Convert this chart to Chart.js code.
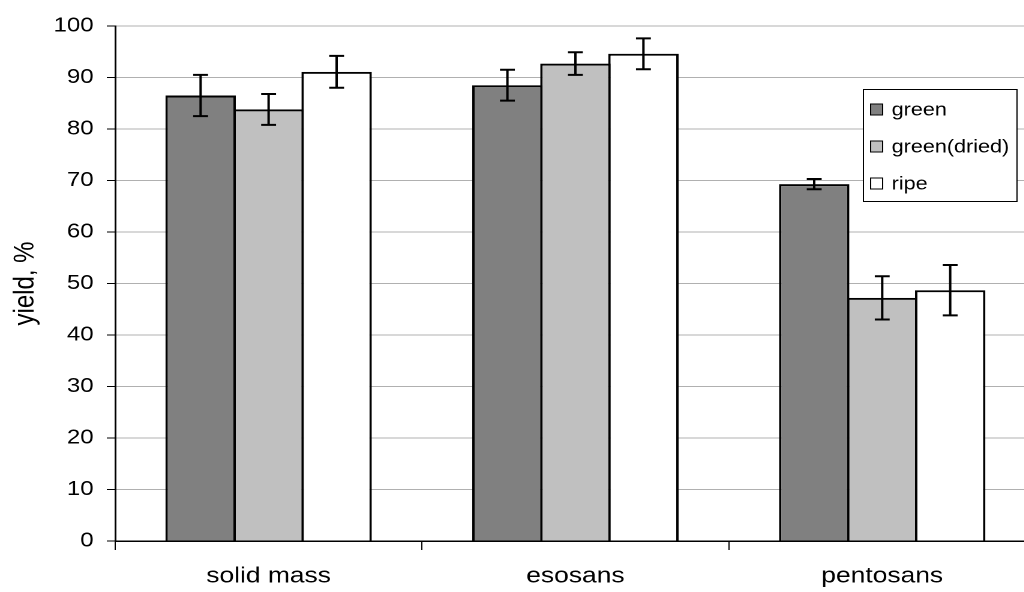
<!DOCTYPE html>
<html lang="en">

<head>
  <meta charset="UTF-8">
  <title>Yield</title>
  <script src="https://cdn.jsdelivr.net/npm/chart.js"></script>
  <style>
    html, body { margin: 0; padding: 0; background: #fff; overflow: hidden; }
    /* the original picture is stretched sideways, so the whole chart is too */
    #wrap { width: 867px; height: 592px; transform: scaleX(1.2); transform-origin: 0 0; }
  </style>
</head>

<body>
  <div id="wrap">
    <canvas id="yieldChart" width="867" height="592"></canvas>
  </div>

  <script>
    const categories = ['solid mass', 'esosans', 'pentosans'];
    const seriesNames = ['green', 'green(dried)', 'ripe'];

    const green = [86.5, 88.5, 69.3];
    const greenDried = [83.8, 92.7, 47.2];
    const ripe = [91.1, 94.6, 48.7];

    const greenErr = [4.0, 3.0, 1.0];
    const greenDriedErr = [3.0, 2.2, 4.2];
    const ripeErr = [3.1, 3.0, 4.9];

    const yTicks = [0, 10, 20, 30, 40, 50, 60, 70, 80, 90, 100];

    const colors = ['#808080', '#c0c0c0', '#ffffff'];

    // error bars drawn over each bar
    const errorBars = {
      id: 'errorBars',
      afterDatasetsDraw(chart) {
        const ctx = chart.ctx;
        const y = chart.scales.y;
        ctx.save();
        ctx.strokeStyle = '#000';
        ctx.lineWidth = 2;
        chart.data.datasets.forEach((ds, i) => {
          const meta = chart.getDatasetMeta(i);
          meta.data.forEach((bar, j) => {
            const v = ds.data[j], e = ds.errors[j];
            const top = y.getPixelForValue(v + e);
            const bot = y.getPixelForValue(v - e);
            const half = 6.2;
            ctx.beginPath();
            ctx.moveTo(bar.x, top); ctx.lineTo(bar.x, bot);
            ctx.moveTo(bar.x - half, top); ctx.lineTo(bar.x + half, top);
            ctx.moveTo(bar.x - half, bot); ctx.lineTo(bar.x + half, bot);
            ctx.stroke();
          });
        });
        ctx.restore();
      }
    };

    // boxed legend sitting inside the plot, top right
    const boxLegend = {
      id: 'boxLegend',
      afterDraw(chart) {
        const ctx = chart.ctx;
        const left = 719, top = 89, right = 847, bottom = 201;
        const rows = [109.5, 146.5, 183.5];
        ctx.save();
        ctx.fillStyle = '#fff';
        ctx.fillRect(left, top, right - left, bottom - top);
        ctx.strokeStyle = '#000';
        ctx.lineWidth = 1;
        ctx.strokeRect(left + 0.5, top + 0.5, right - left, bottom - top);
        ctx.font = '18px "Liberation Sans", Arial, sans-serif';
        ctx.textBaseline = 'middle';
        chart.data.datasets.forEach((ds, i) => {
          const cy = rows[i];
          ctx.fillStyle = ds.backgroundColor;
          ctx.fillRect(725.5, cy - 5.5, 10, 11);
          ctx.strokeStyle = '#000';
          ctx.strokeRect(725.5, cy - 5.5, 10, 11);
          ctx.fillStyle = '#000';
          ctx.fillText(ds.label, 743, cy + 1);
        });
        ctx.restore();
      }
    };

    Chart.defaults.font.family = '"Liberation Sans", Arial, sans-serif';
    Chart.defaults.color = '#000';

    const ctx = document.getElementById('yieldChart').getContext('2d');
    new Chart(ctx, {
      type: 'bar',
      data: {
        labels: categories,
        datasets: [
          { label: seriesNames[0], data: green, errors: greenErr, backgroundColor: colors[0] },
          { label: seriesNames[1], data: greenDried, errors: greenDriedErr, backgroundColor: colors[1] },
          { label: seriesNames[2], data: ripe, errors: ripeErr, backgroundColor: colors[2] }
        ]
      },
      options: {
        responsive: false,
        devicePixelRatio: 2,
        animation: false,
        layout: { padding: { top: 26, right: 4, bottom: 0, left: 0 } },
        datasets: {
          bar: {
            borderColor: '#000',
            borderWidth: 2,
            inflateAmount: 0,
            categoryPercentage: 0.665,
            // a little over 1 so neighbouring bars share one edge
            barPercentage: 1.035
          }
        },
        plugins: {
          legend: { display: false },
          tooltip: { enabled: false }
        },
        scales: {
          x: {
            afterFit: s => { s.height = 51; },
            grid: {
              offset: true,
              drawOnChartArea: false,
              tickLength: 9,
              tickColor: '#000',
              tickWidth: 1
            },
            border: { color: '#000', width: 1.5 },
            ticks: { font: { size: 22 }, padding: 13 }
          },
          y: {
            min: 0,
            max: 100,
            afterFit: s => { s.width = 96; },
            afterBuildTicks: s => { s.ticks = yTicks.map(v => ({ value: v })); },
            grid: {
              color: '#b0b0b0',
              lineWidth: 1,
              tickLength: 7,
              tickColor: '#000'
            },
            border: { color: '#000', width: 1.5 },
            ticks: { font: { size: 20 }, padding: 11 },
            title: {
              display: true,
              text: 'yield, %',
              font: { size: 24 },
              padding: { top: 7, bottom: 0 }
            }
          }
        }
      },
      plugins: [errorBars, boxLegend]
    });
  </script>
</body>

</html>
